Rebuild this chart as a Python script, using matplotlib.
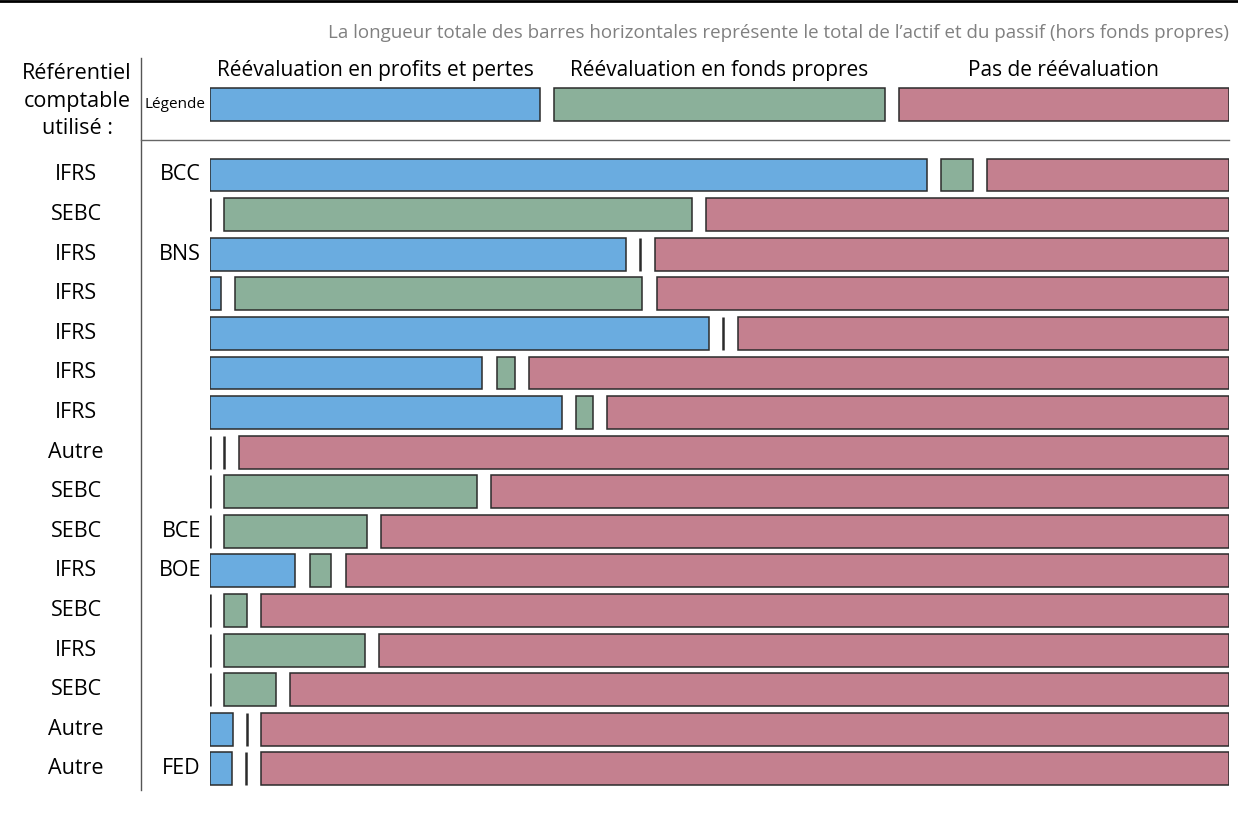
import matplotlib.pyplot as plt
from matplotlib.transforms import blended_transform_factory

plt.rcParams['font.family'] = ['Open Sans', 'DejaVu Sans']

# data: share (%) of balance sheet per treatment
standards = ['IFRS', 'SEBC', 'IFRS', 'IFRS', 'IFRS', 'IFRS', 'IFRS', 'Autre',
             'SEBC', 'SEBC', 'IFRS', 'SEBC', 'IFRS', 'SEBC', 'Autre', 'Autre']
banks = ['BCC', '', 'BNS', '', '', '', '', '', '', 'BCE', 'BOE', '', '', '', '', 'FED']
pnl = [72.4, 0, 42.0, 1.1, 50.4, 27.5, 35.5, 0, 0, 0, 8.6, 0, 0, 0, 2.3, 2.2]
equity = [3.2, 47.2, 0, 41.1, 0, 1.8, 1.7, 0, 25.5, 14.4, 2.2, 2.3, 14.2, 5.2, 0, 0]
none = [24.4, 52.8, 58.0, 57.8, 49.6, 70.7, 62.8, 100, 74.5, 85.6, 89.2, 97.7, 85.8, 94.8, 97.7, 97.8]

legend_share = [100 / 3, 100 / 3, 100 / 3]
series_names = ['Réévaluation en profits et pertes', 'Réévaluation en fonds propres',
                'Pas de réévaluation']
colors = ['#6AACE0', '#8BB09A', '#C4808F']

GAP = 1.45
BAR_H = 0.83
LEGEND_ROW = -1.77

W, H = 1238, 814
fig = plt.figure(figsize=(W / 100, H / 100), dpi=100)
ax = fig.add_axes([210 / W, 0, 1019 / W, 1])
ax.set_xlim(0, 100 + 2 * GAP)
ax.set_ylim(16.14, -4.42)
ax.axis('off')


def draw_row(y, shares):
    left = 0
    for v, c in zip(shares, colors):
        if v > 0:
            ax.barh(y, v, left=left, height=BAR_H, color=c, edgecolor='#2b2b2b', linewidth=1.1)
        else:
            ax.vlines(left, y - BAR_H / 2, y + BAR_H / 2, color='#2b2b2b', linewidth=1.8)
        left += v + GAP


draw_row(LEGEND_ROW, legend_share)
for r in range(len(standards)):
    draw_row(r, [pnl[r], equity[r], none[r]])

# column headers over the legend bars
left = 0
for v, name in zip(legend_share, series_names):
    ax.text(left + v / 2, LEGEND_ROW - 0.87, name, ha='center', va='center', fontsize=15)
    left += v + GAP

tr = blended_transform_factory(fig.transFigure, ax.transData)
for r, (s, b) in enumerate(zip(standards, banks)):
    fig.text(76 / W, r, s, transform=tr, ha='center', va='center', fontsize=15.5)
    if b:
        fig.text(201 / W, r, b, transform=tr, ha='right', va='center', fontsize=15.5)
fig.text(205 / W, LEGEND_ROW, 'Légende', transform=tr, ha='right', va='center', fontsize=11)

fig.text(77 / W, 1 - 101 / H, 'Référentiel\ncomptable\nutilisé :', ha='center', va='center',
         fontsize=15.5, linespacing=1.38)

fig.text(1229 / W, 1 - 33 / H, 'La longueur totale des barres horizontales représente le total '
         'de l\u2019actif et du passif (hors fonds propres)', ha='right', va='center',
         fontsize=13.5, color='#808080')

# frame lines
fig.add_artist(plt.Line2D([0, 1], [1 - 1 / H, 1 - 1 / H], color='black', linewidth=2))
fig.add_artist(plt.Line2D([141 / W, 141 / W], [1 - 58 / H, 1 - 790 / H], color='#555555', linewidth=1))
fig.add_artist(plt.Line2D([141 / W, 1229 / W], [1 - 140 / H, 1 - 140 / H], color='#666666', linewidth=1))

fig.savefig('out.png', dpi=100)
